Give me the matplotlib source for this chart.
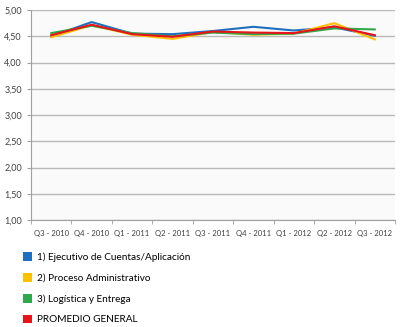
import matplotlib.pyplot as plt
from matplotlib.patches import Patch

plt.rcParams['font.family'] = ['Lato', 'DejaVu Sans']

periods = ['Q3 - 2010', 'Q4 - 2010', 'Q1 - 2011', 'Q2 - 2011', 'Q3 - 2011',
           'Q4 - 2011', 'Q1 - 2012', 'Q2 - 2012', 'Q3 - 2012']

ejecutivo = [4.50, 4.77, 4.55, 4.54, 4.60, 4.68, 4.61, 4.67, 4.51]
proceso = [4.48, 4.71, 4.53, 4.45, 4.58, 4.53, 4.55, 4.75, 4.44]
logistica = [4.56, 4.70, 4.56, 4.50, 4.57, 4.54, 4.55, 4.65, 4.63]
promedio = [4.52, 4.72, 4.54, 4.49, 4.59, 4.57, 4.56, 4.69, 4.52]

series = [
    ('1) Ejecutivo de Cuentas/Aplicación', ejecutivo, '#1f6fbf'),
    ('2) Proceso Administrativo', proceso, '#ffc000'),
    ('3) Logística y Entrega', logistica, '#2ea84a'),
    ('PROMEDIO GENERAL', promedio, '#e8141b'),
]

fig = plt.figure(figsize=(4.0, 3.27), dpi=100)
ax = fig.add_axes([0.0775, 0.3272, 0.91, 0.6422])
ax.set_facecolor('#fafafa')

x = range(len(periods))
for label, vals, color in series:
    ax.plot(x, vals, color=color, lw=1.5, label=label, solid_joinstyle='round')

ax.set_xlim(-0.5, len(periods) - 0.5)
ax.set_ylim(1.0, 5.0)
ax.set_yticks([1.0 + 0.5 * i for i in range(9)])
ax.set_yticklabels([f'{1.0 + 0.5 * i:.2f}'.replace('.', ',') for i in range(9)])
ax.set_xticks(list(x))
ax.set_xticklabels(periods)
ax.set_xticks([i + 0.5 for i in range(-1, len(periods))], minor=True)
ax.tick_params(axis='x', which='major', length=0, labelsize=5.5, colors='#404040', pad=7)
ax.tick_params(axis='x', which='minor', length=3, color='#a0a0a0')
ax.tick_params(axis='y', length=3, color='#a0a0a0', labelsize=6.5, labelcolor='#404040')
ax.grid(axis='y', color='#b8b8b8', lw=1)
ax.set_axisbelow(True)
for side in ['top', 'right']:
    ax.spines[side].set_visible(False)
for side in ['left', 'bottom']:
    ax.spines[side].set_color('#a0a0a0')

handles = [Patch(facecolor=c, edgecolor='none') for _, _, c in series]
fig.legend(handles, [s[0] for s in series], loc='upper left',
           bbox_to_anchor=(0.057, 0.228), frameon=False, fontsize=7.2,
           handlelength=0.95, handleheight=0.95, handletextpad=0.5,
           labelspacing=1.1, borderaxespad=0, borderpad=0)

fig.savefig('out.png', dpi=100, facecolor='white')
